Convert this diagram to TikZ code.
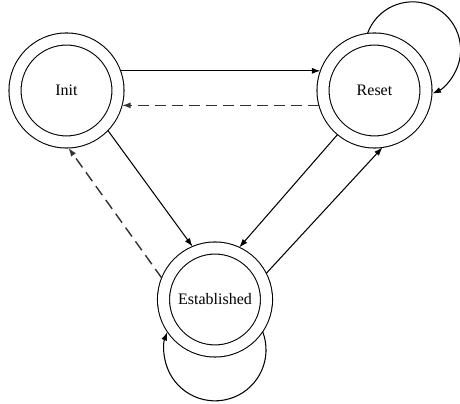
\documentclass[tikz,border=0pt]{standalone}
\usepackage{fontspec}
\setmainfont{Liberation Serif}
\usetikzlibrary{arrows.meta}

\begin{document}
\begin{tikzpicture}[>={Latex[length=0.17cm,width=0.12cm]}, line width=0.6pt]
  \tikzstyle{fsmstate} = [circle, draw, double, double distance=0.22cm, minimum size=2.06cm, outer sep=0.12cm, font=\fontsize{9.1}{11}\selectfont]
  \tikzstyle{fsmback} = [->, dash pattern=on 0.22cm off 0.12cm, black!80, line width=0.8pt]

  \useasboundingbox (0,0) rectangle (9.2,8.08);

  \node [fsmstate] (init) at (1.33, 6.27) {Init};
  \node [fsmstate] (reset) at (7.49, 6.27) {Reset};
  \node [fsmstate] (est) at (4.3, 2.09) {Established};

  \draw[->] (init.20) -- (reset.160);
  \draw[fsmback] (reset.195) -- (init.-15);
  \draw[->] (init.-44) -- (est.113);
  \draw[fsmback] (est.158) -- (init.-88);
  \draw[->] (reset.-130) -- (est.65);
  \draw[->] (est.27) -- (reset.-82);
  \draw[->] (reset.97.5) arc[start angle=160, end angle=-65.6, radius=0.96];
  \draw[->] (est.-34.7) arc[start angle=20.9, end angle=-200.5, radius=1.02];
\end{tikzpicture}
\end{document}
